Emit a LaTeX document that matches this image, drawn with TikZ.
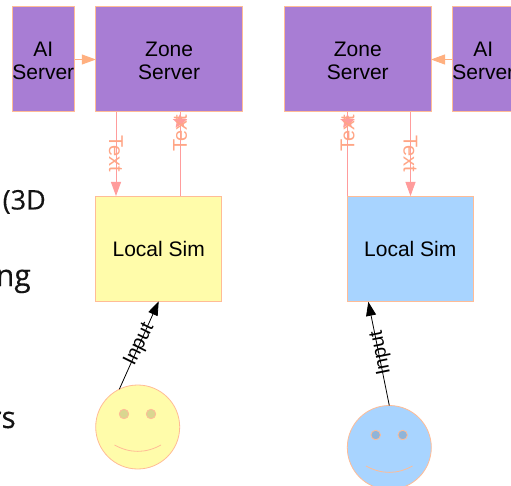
\documentclass[tikz,border=0pt]{standalone}
\usepackage{fontspec}
\setmainfont{Liberation Sans}
\newfontfamily\slidefont[FakeBold=0.25]{Open Sans}
\usetikzlibrary{arrows.meta,shapes.geometric}
\definecolor{edgeorange}{HTML}{FFBC96}
\definecolor{linkpink}{HTML}{FF9C9C}
\definecolor{linkorange}{HTML}{FFB080}
\definecolor{labelorange}{HTML}{FFA585}
\definecolor{serverpurple}{HTML}{A87DD4}
\definecolor{simyellow}{HTML}{FFFCAA}
\definecolor{simblue}{HTML}{A8D4FF}
\newcommand{\twolines}[2]{\raisebox{-3.5pt}[\height][\depth]{\begin{tabular}{@{}c@{}}#1\\#2\end{tabular}}}
\tikzset{
  box/.style={draw=edgeorange,line width=1pt,inner sep=0pt,outer sep=0pt,
    font=\fontsize{21}{23}\selectfont,text=black},
  ai/.style={box,fill=serverpurple,minimum width=62.5pt,minimum height=105pt},
  zone/.style={box,fill=serverpurple,minimum width=146.5pt,minimum height=105pt},
  sim/.style={box,minimum width=125.5pt,minimum height=105pt},
  face/.style={circle,draw=edgeorange,line width=0.8pt,inner sep=0pt,outer sep=0pt,minimum size=84pt},
  eye/.style={circle,draw=edgeorange,line width=0.8pt,inner sep=0pt,outer sep=0pt,minimum size=9.5pt},
  smile/.style={draw=edgeorange,line width=0.8pt},
  datalink/.style={draw=linkpink,line width=0.9pt},
  downlink/.style={datalink,-{Triangle[length=14pt,width=10pt,fill=linkpink]}},
  ailink/.style={draw=linkorange,line width=0.9pt,-{Triangle[length=14pt,width=10pt,fill=linkorange]}},
  inputlink/.style={draw=black,line width=0.8pt,-{Triangle[length=14pt,width=10pt,fill=black]}},
  linklabel/.style={font=\fontsize{20}{22}\selectfont,text=labelorange,inner sep=0pt},
  inputlabel/.style={font=\fontsize{20}{22}\selectfont,text=black,inner sep=0pt,text height=14.3pt,text depth=0pt},
  startip/.style={star,star points=5,star point ratio=2.1,fill=linkpink,inner sep=0pt,minimum size=15pt},
  slidetext/.style={anchor=base east,inner sep=0pt,text=black!92},
}
\begin{document}
\begin{tikzpicture}[x=1pt,y=-1pt]
\useasboundingbox (0,0) rectangle (511,486);
\fill[white] (0,0) rectangle (511,486);
\clip (0,0) rectangle (511,486);
% slide text behind the diagram
\node[slidetext,font=\slidefont\fontsize{27}{29}\selectfont] (t3d) at (46,209.5) {(3D};
\node[slidetext,font=\slidefont\fontsize{30}{32}\selectfont] (tng) at (31,286) {ng};
\node[slidetext,font=\slidefont\fontsize{30}{32}\selectfont] (trs) at (16,428) {rs};
% boxes
\node[ai] (aiL) at (43.25,59.5) {\twolines{AI}{Server}};
\node[zone] (zoneL) at (169.1,59.5) {\twolines{Zone}{Server}};
\node[sim,fill=simyellow] (simL) at (158.7,248.8) {Local Sim};
\node[zone] (zoneR) at (357.75,59.5) {\twolines{Zone}{Server}};
\node[ai] (aiR) at (483.25,59.5) {\twolines{AI}{Server}};
\node[sim,fill=simblue] (simR) at (410.25,248.8) {Local Sim};
% faces
\node[face,fill=simyellow] (faceL) at (137.7,427) {};
\node[eye,fill=simyellow!85!black] (eyeL1) at (124,414) {};
\node[eye,fill=simyellow!85!black] (eyeL2) at (151,414) {};
\draw[smile] (114.5,445) .. controls (130,453.5) and (145.5,453.5) .. (161,445);
\node[face,fill=simblue] (faceR) at (389.3,447.5) {};
\node[eye,fill=simblue!85!black] (eyeR1) at (375.7,435) {};
\node[eye,fill=simblue!85!black] (eyeR2) at (402.7,435) {};
\draw[smile] (366,466) .. controls (381.5,474.5) and (397,474.5) .. (412.5,466);
% named ends
\coordinate (aL) at (116,112);
\coordinate (bL) at (116,196);
\coordinate (cL) at (180,196);
\coordinate (dL) at (180,112);
\coordinate (aR) at (410.5,112);
\coordinate (bR) at (410.5,196);
\coordinate (cR) at (347.5,196);
\coordinate (dR) at (347.5,112);
\coordinate (inR) at (368.3,301.8);
% connectors
\draw[ailink] (aiL.east) -- (zoneL.west);
\draw[ailink] (aiR.west) -- (zoneR.east);
\draw[downlink] (aL) -- (bL);
\draw[datalink] (cL) -- (dL);
\draw[downlink] (aR) -- (bR);
\draw[datalink] (cR) -- (dR);
\node[startip] (starL) at (180,121.5) {};
\node[startip] (starR) at (347.5,121.5) {};
\draw[inputlink] (faceL.116) -- (simL.south);
\draw[inputlink] (faceR.north) -- (inR);
% labels
\node[linklabel,rotate=-90] (txt1) at (116,154) {Text};
\node[linklabel,rotate=90] (txt2) at (180,133) {Text};
\node[linklabel,rotate=-90] (txt3) at (410.5,154) {Text};
\node[linklabel,rotate=90] (txt4) at (347.5,133) {Text};
\node[inputlabel,rotate=63.7] (in1) at (137.5,343.5) {Input};
\node[inputlabel,rotate=101.4] (in2) at (378.8,353.5) {Input};
\end{tikzpicture}
\end{document}
